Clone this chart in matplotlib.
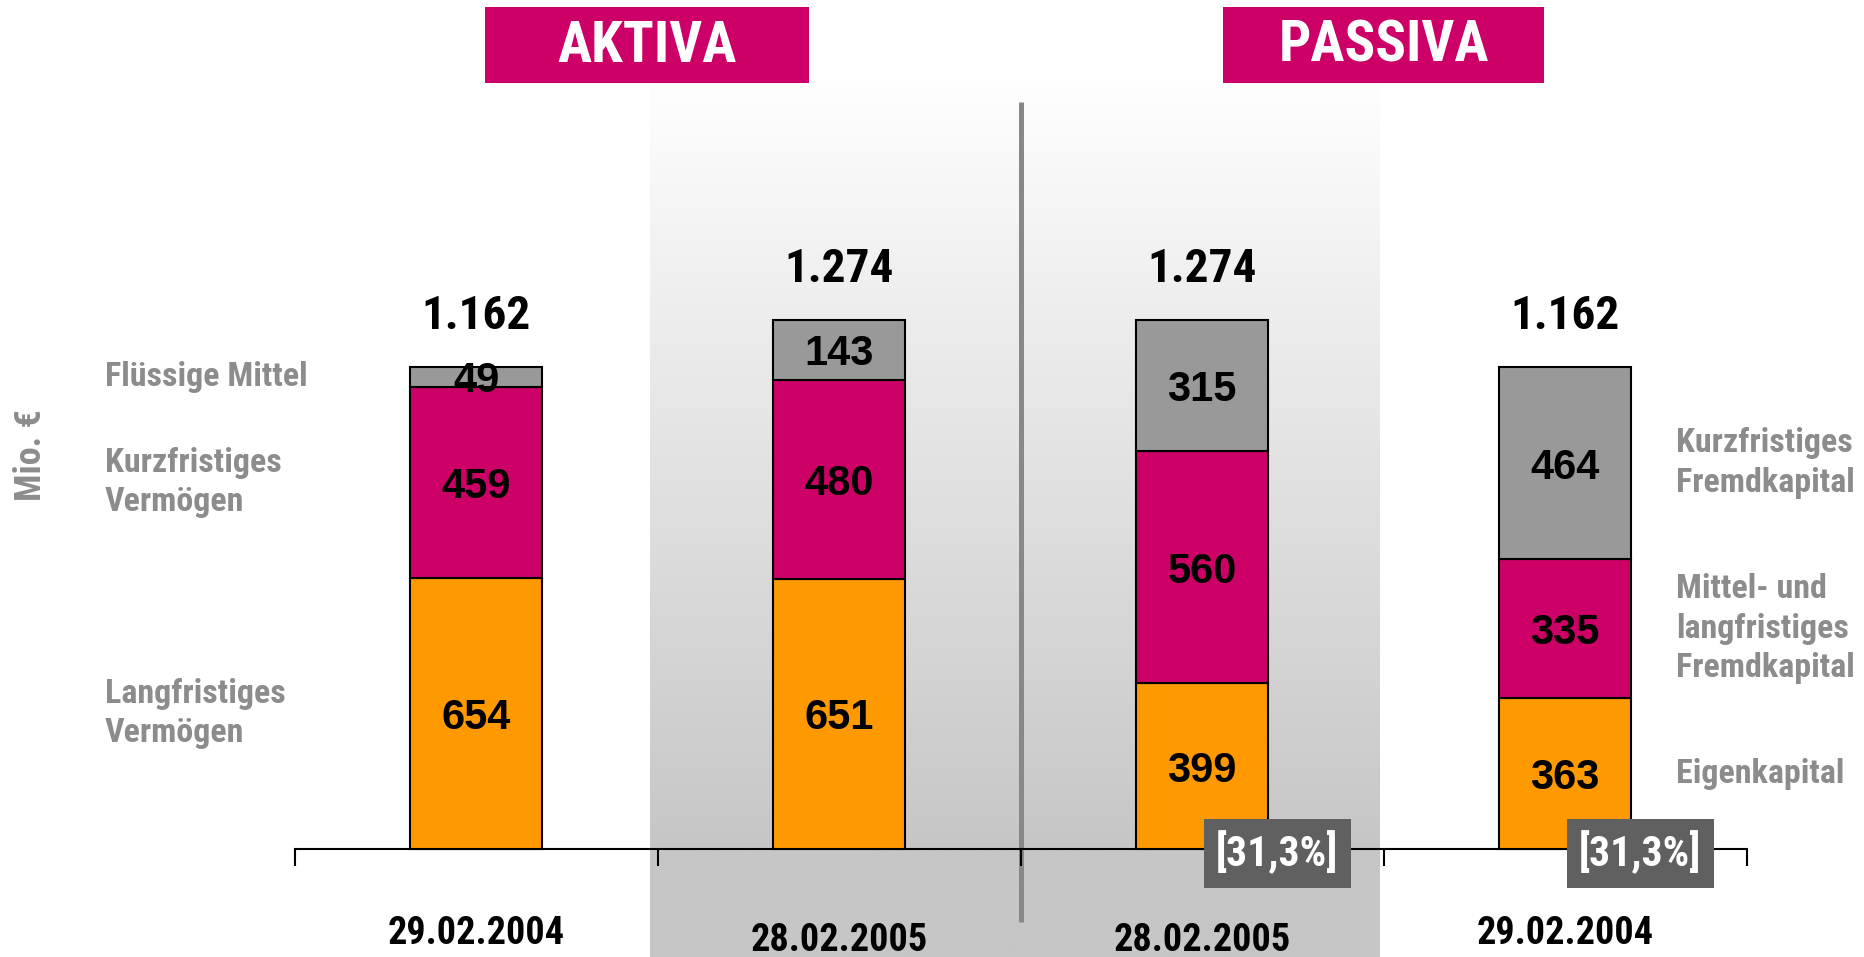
import numpy as np
import matplotlib
matplotlib.use("Agg")
import matplotlib.pyplot as plt
import matplotlib.transforms as mtransforms
from matplotlib.patches import Rectangle
from matplotlib import font_manager as fm

# ------------------ DATA ------------------
dates = ["29.02.2004", "28.02.2005", "28.02.2005", "29.02.2004"]
# bottom / middle / top segment of each stacked bar (Mio. EUR)
bottom_vals = [654, 651, 399, 363]   # Langfristiges Vermoegen | Eigenkapital
middle_vals = [459, 480, 560, 335]   # Kurzfristiges Vermoegen | Mittel- und langfr. FK
top_vals = [49, 143, 315, 464]       # Fluessige Mittel | Kurzfristiges FK
equity_ratio = ["[31,3%]", "[31,3%]"]  # shown on the two PASSIVA bars
aktiva_labels = ["Langfristiges\nVermögen", "Kurzfristiges\nVermögen", "Flüssige Mittel"]
passiva_labels = ["Eigenkapital", "Mittel- und\nlangfristiges\nFremdkapital",
                  "Kurzfristiges\nFremdkapital"]
headers = ["AKTIVA", "PASSIVA"]
unit_label = "Mio. €"


# ------------------ FONT ------------------
def pick_narrow():
    fonts = [(f.name, f.stretch) for f in fm.fontManager.ttflist]
    names = {n for n, s in fonts}
    for name in ["Liberation Sans Narrow", "Roboto Condensed", "Noto Sans Condensed",
                 "Open Sans Condensed", "DejaVu Sans Condensed", "Noto Sans SemiCondensed"]:
        if name in names:
            return name, "normal", 1.0
    for name in ["Noto Sans", "DejaVu Sans", "Open Sans", "Roboto"]:
        for n, s in fonts:
            if n == name and s in ("condensed", "semi-condensed", 300, 400):
                return name, "condensed", 0.95
    for n in sorted(names):
        if "Condensed" in n or "Narrow" in n:
            return n, "normal", 1.0
    return "DejaVu Sans", "normal", 0.78


NARROW, STRETCH, FS = pick_narrow()

ORANGE = "#FF9900"
MAGENTA = "#CC0066"
GREY = "#999999"
LABEL_GREY = "#8C8C8C"
W, H = 1865, 957

fig = plt.figure(figsize=(W / 100, H / 100), dpi=100)
ax = fig.add_axes([0, 0, 1, 1])
ax.axis("off")

# 363 px per category, bar 0 centred at x=476 px, baseline 108 px from bottom
ax.set_xlim(-476 / 363, (W - 476) / 363)
ax.set_ylim(-108 / 0.415, (H - 108) / 0.415)

# pixel transform (origin top-left) for the decorations
T = mtransforms.Affine2D().scale(1 / W, -1 / H).translate(0, 1) + fig.transFigure

nfont = dict(family=NARROW, fontstretch=STRETCH, fontweight="bold")

x = np.arange(len(dates))
bottom_vals = np.array(bottom_vals)
middle_vals = np.array(middle_vals)
top_vals = np.array(top_vals)
totals = bottom_vals + middle_vals + top_vals

# ------------------ BACKGROUND GRADIENT ------------------
py = np.arange(88, H)
shade = 254 - 56 * np.clip((py - 88) / (849 - 88), 0, 1)
grad = np.repeat(shade[:, None, None], 3, axis=2) / 255.0
y_top = (849 - 88) / 0.415
ax.imshow(grad, extent=[0.479, 2.49, ax.get_ylim()[0], y_top], aspect="auto",
          origin="upper", interpolation="bilinear", zorder=0)

# separator between AKTIVA and PASSIVA
ax.plot([1.5, 1.5], [-176, 1800], color="#888888", lw=3.6, zorder=1,
        solid_capstyle="butt")

# ------------------ BARS ------------------
width = 0.364
kw = dict(width=width, edgecolor="black", linewidth=1.5, zorder=3)
ax.bar(x, bottom_vals, color=ORANGE, **kw)
ax.bar(x, middle_vals, bottom=bottom_vals, color=MAGENTA, **kw)
ax.bar(x, top_vals, bottom=bottom_vals + middle_vals, color=GREY, **kw)

for i in range(len(x)):
    starts = [0, bottom_vals[i], bottom_vals[i] + middle_vals[i]]
    for s, v in zip(starts, [bottom_vals[i], middle_vals[i], top_vals[i]]):
        ax.text(x[i], s + v / 2, str(v), ha="center", va="center_baseline",
                fontsize=30, fontweight="bold", family="Liberation Sans", zorder=4)
    ax.annotate(f"{totals[i]:,}".replace(",", "."), (x[i], totals[i]),
                xytext=(0, 21), textcoords="offset points", ha="center", va="bottom",
                fontsize=34 * FS, **nfont)

# date labels below axis
date_drop = [61, 66, 66, 61]
for i, d in enumerate(dates):
    ax.annotate(d, (x[i], 0), xytext=(0, -date_drop[i]), textcoords="offset points",
                ha="center", va="center", fontsize=27.5 * FS, **nfont)

# category axis with ticks between categories
ax.plot([-0.5, len(x) - 0.5], [0, 0], color="black", lw=1.5, zorder=2)
ax.vlines(np.arange(len(x) + 1) - 0.5, -41, 0, color="black", lw=1.5, zorder=2)

# equity ratio boxes
for i, txt in zip([2, 3], equity_ratio):
    ax.annotate(txt, (x[i] + 0.207, 0), xytext=(0, -3), textcoords="offset points",
                ha="center", va="center", fontsize=30 * FS, color="white", zorder=6,
                bbox=dict(boxstyle="square,pad=0.3", fc="#606060", ec="none"), **nfont)

# ------------------ ROW LABELS ------------------
starts0 = [0, bottom_vals[0], bottom_vals[0] + middle_vals[0]]
for s, v, lab in zip(starts0, [bottom_vals[0], middle_vals[0], top_vals[0]], aktiva_labels):
    ax.text(-1.022, s + v / 2, lab, ha="left", va="center", color=LABEL_GREY,
            fontsize=24.5 * FS, linespacing=1.3, **nfont)

starts3 = [0, bottom_vals[3], bottom_vals[3] + middle_vals[3]]
for s, v, lab in zip(starts3, [bottom_vals[3], middle_vals[3], top_vals[3]], passiva_labels):
    ax.text(3.306, s + v / 2, lab, ha="left", va="center", color=LABEL_GREY,
            fontsize=24.5 * FS, linespacing=1.3, **nfont)

ax.text(31, 455, unit_label, transform=T, rotation=90, ha="center", va="center",
        color=LABEL_GREY, fontsize=26 * FS, **nfont)

# ------------------ HEADERS ------------------
for (left, right), title in zip([(485, 809), (1223, 1544)], headers):
    ax.add_patch(Rectangle((left, 7), right - left, 76, transform=T,
                           facecolor=MAGENTA, edgecolor="none", clip_on=False))
    ax.text((left + right) / 2, 46, title, transform=T, ha="center", va="center",
            color="white", fontsize=41 * FS, **nfont)

fig.savefig("out.png", dpi=100)
